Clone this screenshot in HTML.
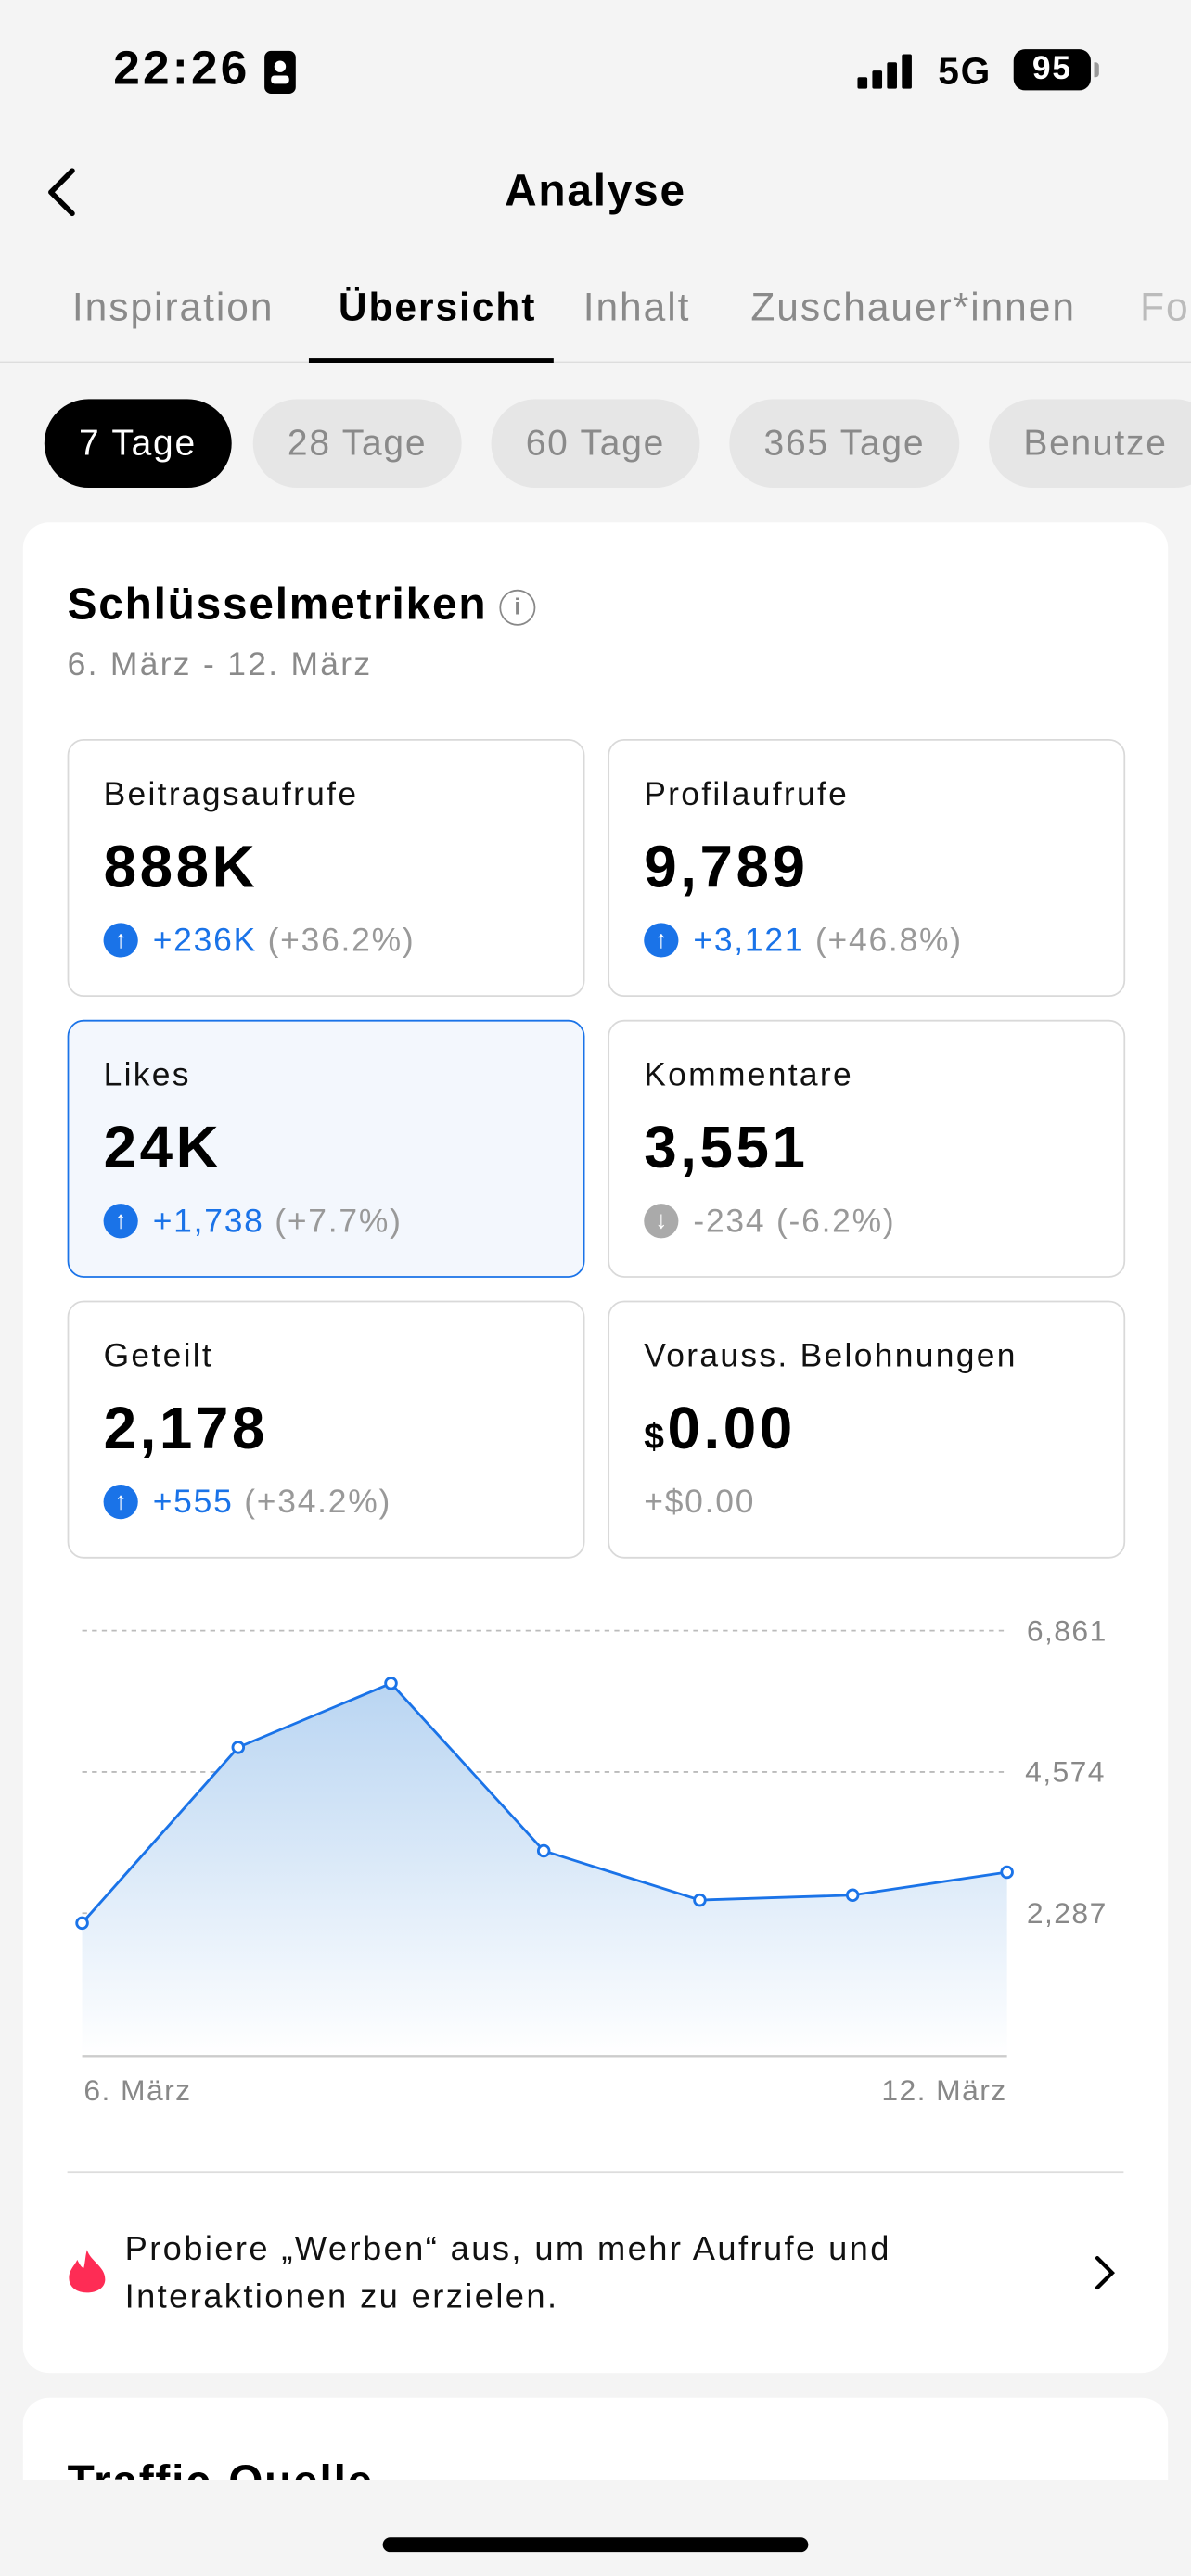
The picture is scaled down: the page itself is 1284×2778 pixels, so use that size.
<!DOCTYPE html>
<html><head><meta charset="utf-8"><style>
*{margin:0;padding:0;box-sizing:border-box}
body{width:1284px;height:2778px;overflow:hidden;background:#f4f4f4;font-family:"Liberation Sans",sans-serif;letter-spacing:1px}
#w{width:725px;height:1568px;transform:scale(1.77103);transform-origin:0 0;position:relative;background:#f4f4f4}
.a{position:absolute;white-space:nowrap}
.tab{position:absolute;top:174px;font-size:24px;color:#8a8a8a;letter-spacing:1.1px}
.pill{position:absolute;top:243px;height:54px;border-radius:27px;background:#e6e6e6;color:#8a8a8a;font-size:22px;line-height:54px;padding:0 21px}
.box{position:absolute;width:315px;height:157px;border:1.3px solid #d9d9d9;border-radius:10px;background:#fff}
.box .l{position:absolute;left:21px;top:22px;font-size:20px;color:#111;letter-spacing:1.3px}
.box .v{position:absolute;left:21px;top:56px;font-size:36px;font-weight:bold;color:#000;letter-spacing:2px}
.box .c{position:absolute;left:21px;top:562px;top:110px;font-size:20px;color:#999;line-height:24px}
.box .c b{font-weight:normal;color:#1a73e8}
.up{display:inline-block;width:21px;height:21px;border-radius:50%;background:#1a73e8;color:#fff;font-size:15px;text-align:center;line-height:21px;vertical-align:top;margin-top:1px;margin-right:9px;font-weight:bold;letter-spacing:0}
</style></head><body><div id="w">
<div class="a" style="left:69px;top:26px;font-size:29px;font-weight:bold;letter-spacing:1.8px">22:26</div>
<div class="a" style="left:161px;top:31px;width:19px;height:26px;background:#000;border-radius:4px"><div style="position:absolute;left:6px;top:6px;width:7px;height:7px;border-radius:50%;background:#fff"></div><div style="position:absolute;left:4px;top:15px;width:11px;height:5px;background:#fff;border-radius:2px"></div></div>
<div class="a" style="left:522px;top:47px;width:6px;height:7px;background:#000;border-radius:1px"></div>
<div class="a" style="left:531px;top:43px;width:6px;height:11px;background:#000;border-radius:1px"></div>
<div class="a" style="left:540px;top:38px;width:6px;height:16px;background:#000;border-radius:1px"></div>
<div class="a" style="left:549px;top:33px;width:6px;height:21px;background:#000;border-radius:1px"></div>
<div class="a" style="left:571px;top:30px;font-size:23px;font-weight:bold">5G</div>
<div class="a" style="left:617px;top:30px;width:47px;height:25px;background:#000;border-radius:7px;color:#fff;font-size:20px;font-weight:bold;text-align:center;line-height:25px">95</div>
<div class="a" style="left:666px;top:38px;width:3px;height:9px;background:#999;border-radius:0 2px 2px 0"></div>
<svg class="a" style="left:26px;top:101px" width="22" height="32"><path d="M18 3 L5 16 L18 29" stroke="#000" stroke-width="3.2" fill="none" stroke-linecap="round" stroke-linejoin="round"/></svg>
<div class="a" style="left:0;width:725px;text-align:center;top:101px;font-size:27px;font-weight:bold">Analyse</div>
<div class="tab" style="left:44px">Inspiration</div>
<div class="tab" style="left:206px;color:#000;font-weight:bold">Übersicht</div>
<div class="tab" style="left:355px">Inhalt</div>
<div class="tab" style="left:457px">Zuschauer*innen</div>
<div class="tab" style="left:694px;color:#bbb">Fo</div>
<div class="a" style="left:0;top:220px;width:725px;height:1px;background:#ddd"></div>
<div class="a" style="left:188px;top:218px;width:149px;height:3px;background:#000"></div>
<div class="pill" style="left:27px;background:#000;color:#fff">7 Tage</div>
<div class="pill" style="left:154px">28 Tage</div>
<div class="pill" style="left:299px">60 Tage</div>
<div class="pill" style="left:444px">365 Tage</div>
<div class="pill" style="left:602px;width:140px">Benutze</div>
<div class="a" style="left:14px;top:318px;width:697px;height:1127px;background:#fff;border-radius:16px"></div>
<div class="a" style="left:41px;top:353px;font-size:27px;font-weight:bold">Schlüsselmetriken</div>
<div class="a" style="left:304px;top:359px;width:22px;height:22px;border:1.8px solid #888;border-radius:50%;color:#888;font-size:14px;text-align:center;line-height:19px;font-weight:bold;letter-spacing:0">i</div>
<div class="a" style="left:41px;top:394px;font-size:20px;color:#8a8a8a;letter-spacing:1.3px">6. März - 12. März</div>
<div class="box" style="left:41px;top:450px"><div class="l">Beitragsaufrufe</div><div class="v">888K</div><div class="c"><span class="up">↑</span><b>+236K</b> (+36.2%)</div></div>
<div class="box" style="left:370px;top:450px"><div class="l">Profilaufrufe</div><div class="v">9,789</div><div class="c"><span class="up">↑</span><b>+3,121</b> (+46.8%)</div></div>
<div class="box" style="left:41px;top:621px;background:#f3f7fd;border-color:#1a73e8"><div class="l">Likes</div><div class="v">24K</div><div class="c"><span class="up">↑</span><b>+1,738</b> (+7.7%)</div></div>
<div class="box" style="left:370px;top:621px"><div class="l">Kommentare</div><div class="v">3,551</div><div class="c"><span class="up" style="background:#aaa">↓</span>-234 (-6.2%)</div></div>
<div class="box" style="left:41px;top:792px"><div class="l">Geteilt</div><div class="v">2,178</div><div class="c"><span class="up">↑</span><b>+555</b> (+34.2%)</div></div>
<div class="box" style="left:370px;top:792px"><div class="l">Vorauss. Belohnungen</div><div class="v"><span style="font-size:22px">$</span>0.00</div><div class="c">+$0.00</div></div>
<svg class="a" style="left:0;top:960px" width="725" height="340">
<defs><linearGradient id="g" x1="0" y1="0" x2="0" y2="1"><stop offset="0" stop-color="#b9d5f2"/><stop offset="1" stop-color="#fff"/></linearGradient></defs>
<g stroke="#bbb" stroke-dasharray="3,3" stroke-width="1"><line x1="50" y1="33" x2="612" y2="33"/><line x1="50" y1="119" x2="612" y2="119"/><line x1="50" y1="205" x2="612" y2="205"/></g>
<path d="M50 211 L145 104 L238 65 L331 167 L426 197 L519 194 L613 180 L613 292 L50 292Z" fill="url(#g)"/>
<line x1="50" y1="292" x2="613" y2="292" stroke="#ccc" stroke-width="1.3"/>
<polyline points="50,211 145,104 238,65 331,167 426,197 519,194 613,180" fill="none" stroke="#1a73e8" stroke-width="1.6"/>
<g fill="#fff" stroke="#1a73e8" stroke-width="1.6"><circle cx="50" cy="211" r="3.3"/><circle cx="145" cy="104" r="3.3"/><circle cx="238" cy="65" r="3.3"/><circle cx="331" cy="167" r="3.3"/><circle cx="426" cy="197" r="3.3"/><circle cx="519" cy="194" r="3.3"/><circle cx="613" cy="180" r="3.3"/></g>
<g font-family="Liberation Sans" font-size="18" fill="#888" letter-spacing="0.8"><text x="625" y="39">6,861</text><text x="624" y="125">4,574</text><text x="625" y="211">2,287</text><text x="51" y="319">6. März</text><text x="613" y="319" text-anchor="end">12. März</text></g>
</svg>
<div class="a" style="left:41px;top:1322px;width:643px;height:1px;background:#ddd"></div>
<svg class="a" style="left:40px;top:1369px" width="26" height="28"><path d="M13 1 C15 8 24 11 24 19 C24 24 19 27 13 27 C7 27 2 24 2 18 C2 13 6 10 7 7 C9 11 10 12 11 12 C12 8 12 4 13 1Z" fill="#fe2c55"/></svg>
<div class="a" style="left:76px;top:1355px;font-size:20.5px;line-height:29px;color:#111;letter-spacing:1.35px">Probiere „Werben“ aus, um mehr Aufrufe und<br>Interaktionen zu erzielen.</div>
<svg class="a" style="left:664px;top:1373px" width="16" height="22"><path d="M4 2 L13 11 L4 20" stroke="#000" stroke-width="2.4" fill="none" stroke-linecap="round"/></svg>
<div class="a" style="left:14px;top:1460px;width:697px;height:50px;background:#fff;border-radius:16px 16px 0 0;overflow:hidden"><div style="position:absolute;left:27px;top:36px;font-size:27px;font-weight:bold">Traffic-Quelle</div></div>
<div class="a" style="left:233px;top:1545px;width:259px;height:9px;background:#000;border-radius:5px"></div>
</div></body></html>
